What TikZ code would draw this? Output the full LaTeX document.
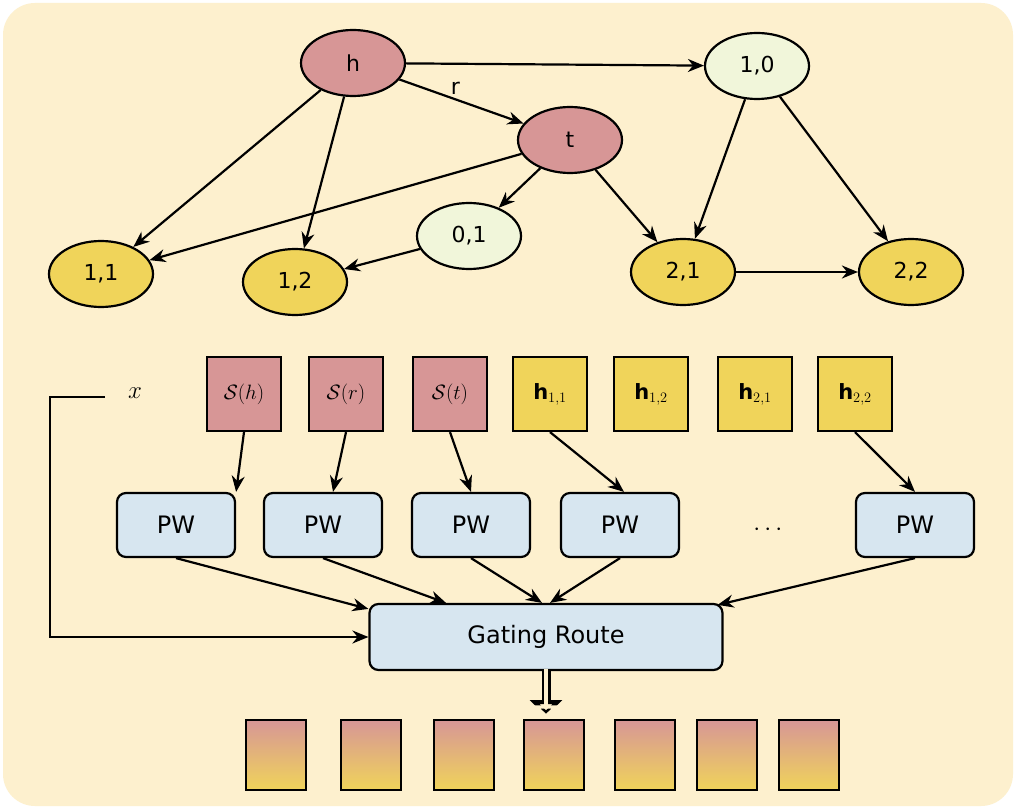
\documentclass[tikz,border=0pt]{standalone}
\usepackage{fontspec}
\setmainfont{DejaVu Sans}
\usepackage{amsmath,amssymb}
\usetikzlibrary{arrows.meta,shapes.geometric,positioning}
\definecolor{bgyel}{RGB}{253,240,206}
\definecolor{nred}{RGB}{215,150,150}
\definecolor{ngrn}{RGB}{241,246,218}
\definecolor{nyel}{RGB}{240,212,90}
\definecolor{pwblu}{RGB}{215,230,240}
\tikzset{
  ent/.style={ellipse,draw,line width=2.2pt,minimum width=104pt,minimum height=66pt,font=\fontsize{22}{24}\selectfont},
  emb/.style={rectangle,draw,line width=2.2pt,minimum width=74pt,minimum height=74pt,inner sep=0pt,font=\fontsize{21}{24}\selectfont},
  pw/.style={rectangle,rounded corners=9pt,draw,line width=2.2pt,fill=pwblu,minimum width=118pt,minimum height=64pt,font=\fontsize{24}{26}\selectfont},
  outsq/.style={rectangle,draw,line width=2.2pt,minimum width=60pt,minimum height=70pt,top color=nred,bottom color=nyel},
  arr/.style={-{Stealth[length=16pt,width=13pt]},line width=2.2pt},
}
\begin{document}
\begin{tikzpicture}[x=1pt,y=-1pt]
\useasboundingbox (0,0) rectangle (1016,810);
\fill[white] (0,0) rectangle (1016,810);
\fill[bgyel] (3,3) [rounded corners=32pt] rectangle (1013,806);

% knowledge graph
\node[ent,fill=nred] (h) at (353,63) {h};
\node[ent,fill=ngrn] (n10) at (757,66) {1,0};
\node[ent,fill=nred] (t) at (570,140) {t};
\node[ent,fill=ngrn] (n01) at (469,236) {0,1};
\node[ent,fill=nyel] (n11) at (101,274) {1,1};
\node[ent,fill=nyel] (n12) at (295,282) {1,2};
\node[ent,fill=nyel] (n21) at (683,272) {2,1};
\node[ent,fill=nyel] (n22) at (911,272) {2,2};

\draw[arr] (h) -- (n10);
\draw[arr] (h) -- node[above,font=\fontsize{22}{24}\selectfont,pos=0.45] {r} (t);
\draw[arr] (h) -- (n11);
\draw[arr] (h) -- (n12);
\draw[arr] (t) -- (n11);
\draw[arr] (t) -- (n01);
\draw[arr] (t) -- (n21);
\draw[arr] (n01) -- (n12);
\draw[arr] (n10) -- (n21);
\draw[arr] (n10) -- (n22);
\draw[arr] (n21) -- (n22);

% embeddings
\node[emb,fill=nred] (sh) at (244,394) {$\mathcal{S}(h)$};
\node[emb,fill=nred] (sr) at (346,394) {$\mathcal{S}(r)$};
\node[emb,fill=nred] (st) at (450,394) {$\mathcal{S}(t)$};
\node[emb,fill=nyel] (h11) at (550,394) {$\mathbf{h}_{1,1}$};
\node[emb,fill=nyel] (h12) at (651,394) {$\mathbf{h}_{1,2}$};
\node[emb,fill=nyel] (h21) at (755,394) {$\mathbf{h}_{2,1}$};
\node[emb,fill=nyel] (h22) at (855,394) {$\mathbf{h}_{2,2}$};
\node[font=\fontsize{24}{26}\selectfont] (x) at (135,393) {$x$};

% projections
\node[pw] (pw1) at (176,525) {PW};
\node[pw] (pw2) at (323,525) {PW};
\node[pw] (pw3) at (471,525) {PW};
\node[pw] (pw4) at (620,525) {PW};
\node[font=\fontsize{24}{26}\selectfont] (dots) at (770,530) {$\cdots$};
\node[pw] (pw5) at (915,525) {PW};

\draw[arr] (sh.south) -- (pw1.north east);
\draw[arr] (sr.south) -- ([xshift=10pt]pw2.north);
\draw[arr] (st.south) -- ([xshift=0pt]pw3.north);
\draw[arr] (h11.south) -- ([xshift=4pt]pw4.north);
\draw[arr] (h22.south) -- (pw5.north);

\node[pw,minimum width=353pt,minimum height=66pt] (gate) at (546,637) {Gating Route};
\draw[arr] (pw1.south) -- ([yshift=-6pt]gate.north west);
\draw[arr] (pw2.south) -- ([xshift=-100pt]gate.north);
\draw[arr] (pw3.south) -- ([xshift=-4pt]gate.north);
\draw[arr] (pw4.south) -- ([xshift=4pt]gate.north);
\draw[arr] (pw5.south) -- ([xshift=-6pt,yshift=-2pt]gate.north east);
\coordinate (xa) at (105,397);
\coordinate (xb) at (50,397);
\draw[arr] (xa) -- (xb) |- (gate.west);

% output
\coordinate (oa) at (546,716);
\draw[-{Triangle[open,length=16pt,width=32pt]},line width=9pt,draw=black] (gate.south) -- (oa);
\draw[-{Triangle[open,length=13pt,width=27pt]},line width=4.5pt,draw=bgyel,shorten <=-2pt] (gate.south) -- ([yshift=-2.3pt]oa);
\foreach \i/\xx in {1/276,2/371,3/464,4/554,5/645,6/727,7/809}
  \node[outsq] (o\i) at (\xx,755) {};
\end{tikzpicture}
\end{document}
